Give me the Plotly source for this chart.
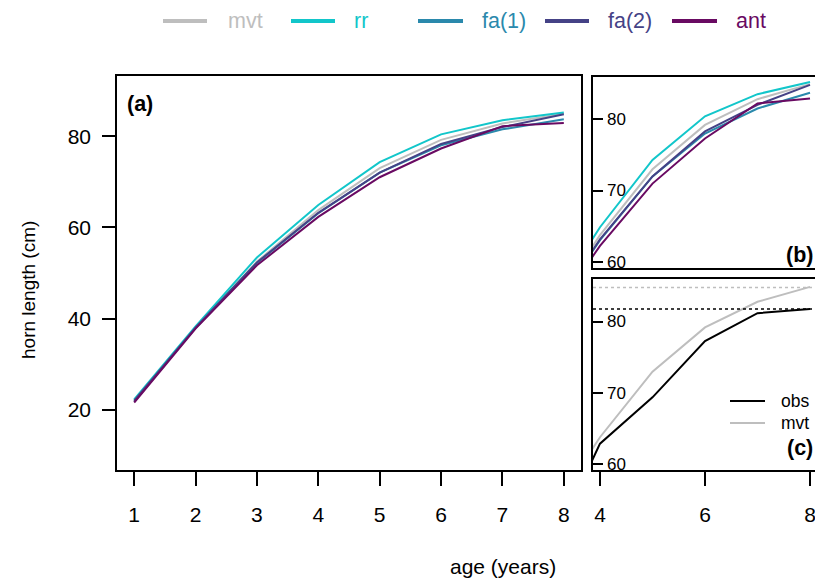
import plotly.graph_objects as go

# Horn growth by age: model predictions and observed means
age = [1, 2, 3, 4, 5, 6, 7, 8]
mvt = [22.0, 38.0, 52.5, 63.8, 73.0, 79.2, 82.8, 84.9]
rr = [22.3, 38.3, 53.4, 64.9, 74.3, 80.4, 83.5, 85.2]
fa1 = [21.8, 38.0, 52.2, 63.1, 72.0, 78.0, 81.5, 83.7]
fa2 = [22.0, 38.0, 52.3, 63.2, 72.0, 78.3, 82.0, 84.8]
ant = [21.6, 37.8, 51.7, 62.3, 71.0, 77.3, 82.2, 82.9]

obs_age = [3, 4, 5, 6, 7, 8]
obs = [47.0, 62.9, 69.4, 77.3, 81.2, 81.8]

# asymptotes of observed and mvt curves
obs_asym = 81.8
mvt_asym = 84.8

main_yticks = [20, 40, 60, 80]
zoom_yticks = [60, 70, 80]
zoom_xticks = [4, 6, 8]

series_names = ["mvt", "rr", "fa(1)", "fa(2)", "ant"]
series_vals = [mvt, rr, fa1, fa2, ant]
series_cols = ["#BEBEBE", "#12C6CA", "#2A89AC", "#454286", "#690A62"]

W, H = 815, 578
FONT = "Liberation Sans, Arial, sans-serif"


def px(x):
    return x / W


def py(y):
    return 1 - y / H


fig = go.Figure()

for name, vals, col in zip(series_names, series_vals, series_cols):
    fig.add_trace(go.Scatter(x=age, y=vals, mode="lines", name=name,
                             line=dict(color=col, width=2),
                             xaxis="x", yaxis="y", showlegend=False))
    fig.add_trace(go.Scatter(x=age, y=vals, mode="lines", name=name,
                             line=dict(color=col, width=2),
                             xaxis="x2", yaxis="y2", showlegend=False))

fig.add_trace(go.Scatter(x=age, y=mvt, mode="lines", name="mvt",
                         line=dict(color="#BEBEBE", width=2),
                         xaxis="x3", yaxis="y3", showlegend=False))
fig.add_trace(go.Scatter(x=obs_age, y=obs, mode="lines", name="obs",
                         line=dict(color="black", width=2),
                         xaxis="x3", yaxis="y3", showlegend=False))

axis_common = dict(showgrid=False, zeroline=False, showline=True,
                   linecolor="black", linewidth=1.5, tickcolor="black",
                   tickwidth=1.5, tickfont=dict(family=FONT, size=21, color="black"))

dom_ax = [px(117), px(581)]
dom_ay = [py(470), py(76)]
dom_rx = [px(593), 1.0]
dom_by = [py(268), py(77)]
dom_cy = [py(470), py(279)]

fig.update_layout(
    width=W, height=H,
    margin=dict(l=0, r=0, t=0, b=0),
    paper_bgcolor="white", plot_bgcolor="white",
    font=dict(family=FONT, color="black"),
    xaxis=dict(domain=dom_ax, anchor="y", range=[0.72, 8.28],
               tickvals=age, ticks="outside", ticklen=14, mirror=True,
               ticklabelstandoff=11, **axis_common),
    yaxis=dict(domain=dom_ay, anchor="x", range=[6.8, 93.2],
               tickvals=main_yticks, ticks="outside", ticklen=13,
               mirror=True, ticklabelstandoff=7, **axis_common),
    xaxis2=dict(domain=dom_rx, anchor="y2", range=[3.867, 8.095],
                ticks="", showticklabels=False, mirror=True,
                **axis_common),
    yaxis2=dict(domain=dom_by, anchor="x2", range=[59.2, 85.9],
                tickvals=zoom_yticks, ticks="inside", ticklen=10,
                showticklabels=False, **axis_common),
    xaxis3=dict(domain=dom_rx, anchor="y3", range=[3.867, 8.095],
                tickvals=zoom_xticks, ticks="outside", ticklen=14,
                ticklabelstandoff=11, ticklabeloverflow="allow",
                mirror=True, **axis_common),
    yaxis3=dict(domain=dom_cy, anchor="x3", range=[59.2, 86.0],
                tickvals=zoom_yticks, ticks="inside", ticklen=10,
                showticklabels=False, **axis_common),
)

shapes = []
annotations = []

# tick labels drawn inside the two zoomed panels
for yref in ["y2", "y3"]:
    for v in zoom_yticks:
        annotations.append(dict(text=str(v), xref="paper", yref=yref,
                                x=px(605), y=v, xanchor="left",
                                yanchor="middle", showarrow=False,
                                font=dict(family=FONT, size=17, color="black")))

# horizontal asymptote lines in panel (c)
shapes.append(dict(type="line", xref="x3 domain", yref="y3", x0=0, x1=1,
                   y0=mvt_asym, y1=mvt_asym,
                   line=dict(color="#BEBEBE", width=1.5, dash="dot")))
shapes.append(dict(type="line", xref="x3 domain", yref="y3", x0=0, x1=1,
                   y0=obs_asym, y1=obs_asym,
                   line=dict(color="black", width=1.5, dash="dot")))

# top legend
leg_items = [(163, 207, 226), (291, 335, 352), (418, 463, 480),
             (545, 589, 606), (672, 717, 734)]
for (x0, x1, tx), name, col in zip(leg_items, series_names, series_cols):
    shapes.append(dict(type="line", xref="paper", yref="paper",
                       x0=px(x0), x1=px(x1), y0=py(21), y1=py(21),
                       line=dict(color=col, width=4)))
    annotations.append(dict(text=name, xref="paper", yref="paper",
                            x=px(tx), y=py(21), xanchor="left",
                            yanchor="middle", showarrow=False,
                            font=dict(family=FONT, size=21.5, color=col)))

# panel (c) legend
for yy, name, col in [(401, "obs", "black"), (423, "mvt", "#BEBEBE")]:
    shapes.append(dict(type="line", xref="paper", yref="paper",
                       x0=px(730), x1=px(765), y0=py(yy), y1=py(yy),
                       line=dict(color=col, width=2)))
    annotations.append(dict(text=name, xref="paper", yref="paper",
                            x=px(779), y=py(yy), xanchor="left",
                            yanchor="middle", showarrow=False,
                            font=dict(family=FONT, size=17.5, color="black")))

# panel tags
annotations.append(dict(text="<b>(a)</b>", xref="paper", yref="paper",
                        x=px(125), y=py(104), xanchor="left", yanchor="middle",
                        showarrow=False, font=dict(family=FONT, size=21.5)))
annotations.append(dict(text="<b>(b)</b>", xref="paper", yref="paper",
                        x=px(815), y=py(255), xanchor="right", yanchor="middle",
                        showarrow=False, font=dict(family=FONT, size=21.5)))
annotations.append(dict(text="<b>(c)</b>", xref="paper", yref="paper",
                        x=px(815), y=py(448), xanchor="right", yanchor="middle",
                        showarrow=False, font=dict(family=FONT, size=21.5)))

# axis titles
annotations.append(dict(text="horn length (cm)", xref="paper", yref="paper",
                        x=px(28), y=py(290), textangle=-90, showarrow=False,
                        xanchor="center", yanchor="middle",
                        font=dict(family=FONT, size=19)))
annotations.append(dict(text="age (years)", xref="paper", yref="paper",
                        x=px(503), y=py(566), showarrow=False,
                        xanchor="center", yanchor="middle",
                        font=dict(family=FONT, size=21)))

fig.update_layout(shapes=shapes, annotations=annotations)

fig.write_html("out.html")
